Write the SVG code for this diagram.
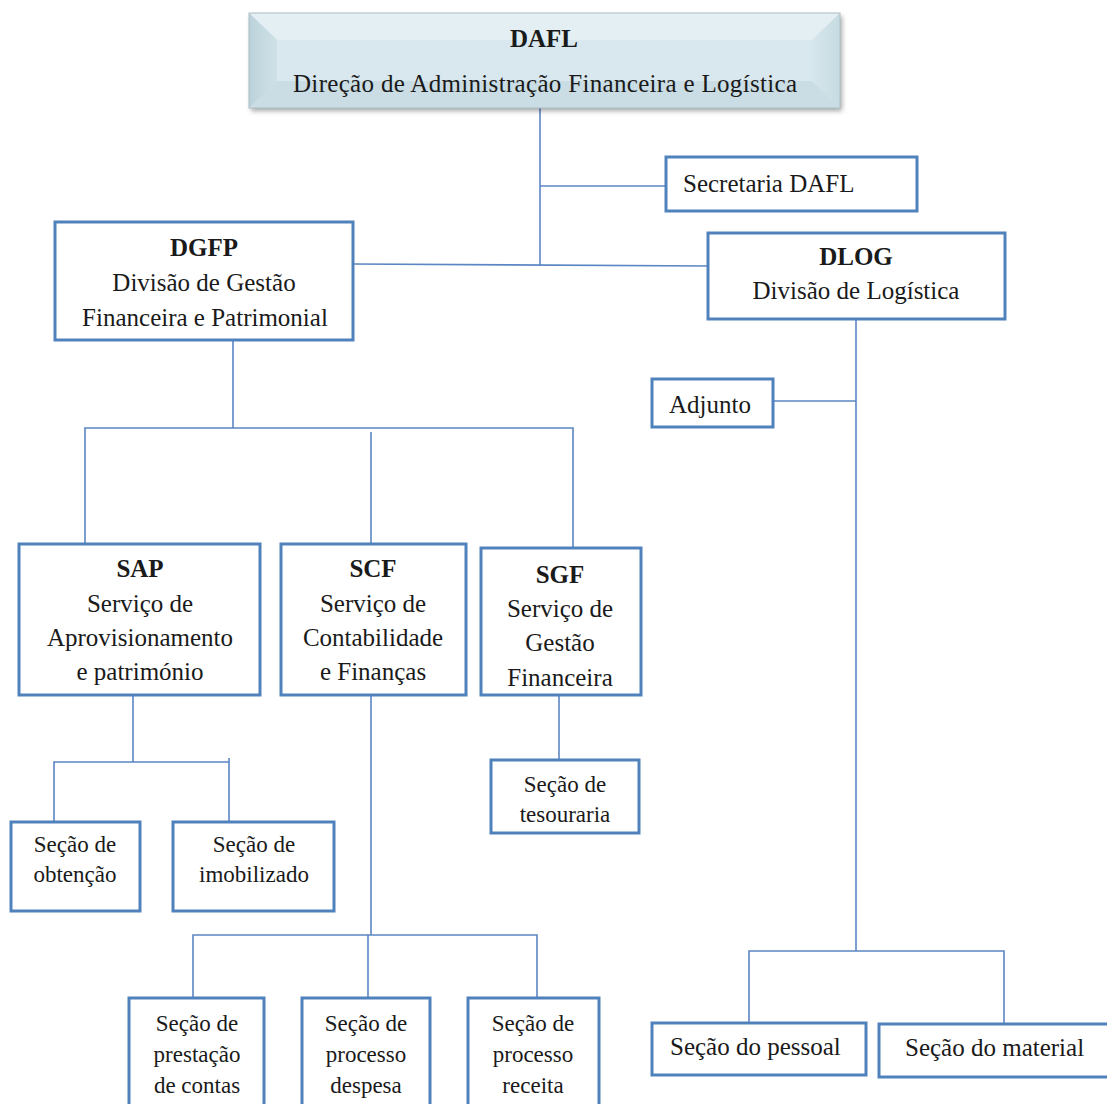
<svg xmlns="http://www.w3.org/2000/svg" width="1107" height="1104" viewBox="0 0 1107 1104">
  <style>
    .box { fill: #ffffff; stroke: #4f81bd; stroke-width: 3; }
    .t { font-family: "Liberation Serif", "Times New Roman", serif; font-size: 25px; fill: #1a1a1a; }
    .s { font-family: "Liberation Serif", "Times New Roman", serif; font-size: 23px; fill: #1a1a1a; }
    .b { font-weight: bold; }
    .c { text-anchor: middle; }
    .ln { stroke: #5b86c4; stroke-width: 1.6; fill: none; }
  </style>
  <defs>
    <filter id="shadow" x="-5%" y="-20%" width="110%" height="150%">
      <feGaussianBlur in="SourceAlpha" stdDeviation="2.5"/>
      <feOffset dx="2" dy="3"/>
      <feComponentTransfer><feFuncA type="linear" slope="0.35"/></feComponentTransfer>
      <feMerge><feMergeNode/><feMergeNode in="SourceGraphic"/></feMerge>
    </filter>
    <linearGradient id="bevL" x1="0" y1="0" x2="1" y2="0">
      <stop offset="0" stop-color="#bcd2da"/>
      <stop offset="1" stop-color="#cfe1e7"/>
    </linearGradient>
    <linearGradient id="bevR" x1="0" y1="0" x2="1" y2="0">
      <stop offset="0" stop-color="#d6e7ec"/>
      <stop offset="1" stop-color="#c6dbe2"/>
    </linearGradient>
  </defs>

  <rect width="1107" height="1104" fill="#ffffff"/>

  <!-- connectors -->
  <g id="connectors">
    <polyline class="ln" points="540,108 540,266"/>
    <polyline class="ln" points="540,186 666,186"/>
    <polyline class="ln" points="353,264 708,266"/>
    <polyline class="ln" points="233,340 233,428"/>
    <polyline class="ln" points="85,544 85,428 573,428 573,548"/>
    <polyline class="ln" points="371,432 371,544"/>
    <polyline class="ln" points="133,695 133,762"/>
    <polyline class="ln" points="54,822 54,762 229,762 229,822"/>
    <polyline class="ln" points="229,758 229,762"/>
    <polyline class="ln" points="371,695 371,935"/>
    <polyline class="ln" points="193,998 193,935 537,935 537,998"/>
    <polyline class="ln" points="368,935 368,998"/>
    <polyline class="ln" points="559,695 559,760"/>
    <polyline class="ln" points="856,319 856,951"/>
    <polyline class="ln" points="749,1023 749,951 1004,951 1004,1024"/>
    <polyline class="ln" points="773,401 856,401"/>
  </g>

  <!-- top direction box with bevelled face -->
  <g id="dafl">
    <g filter="url(#shadow)">
      <rect x="249" y="13" width="591" height="95" fill="#d3e4ea"/>
    </g>
    <polygon points="249,13 840,13 812,40 277,40" fill="#e3eff3"/>
    <polygon points="249,13 277,40 277,81 249,108" fill="url(#bevL)"/>
    <polygon points="840,13 812,40 812,81 840,108" fill="url(#bevR)"/>
    <polygon points="249,108 277,81 812,81 840,108" fill="#cadde4"/>
    <rect x="277" y="40" width="535" height="41" fill="#d8e8ee"/>
    <rect x="249" y="13" width="591" height="95" fill="none" stroke="#aebfc6" stroke-width="1"/>
    <text class="t b c" x="544" y="47">DAFL</text>
    <text class="t c" x="545" y="92" textLength="504">Direção de Administração Financeira e Logística</text>
  </g>

  <g id="secretaria">
    <rect class="box" x="666" y="157" width="251" height="54"/>
    <text class="t" x="683" y="192">Secretaria DAFL</text>
  </g>

  <g id="dgfp">
    <rect class="box" x="55" y="222" width="298" height="118"/>
    <text class="t b c" x="204" y="256">DGFP</text>
    <text class="t c" x="204" y="291">Divisão de Gestão</text>
    <text class="t c" x="205" y="326">Financeira e Patrimonial</text>
  </g>

  <g id="dlog">
    <rect class="box" x="708" y="233" width="297" height="86"/>
    <text class="t b c" x="856" y="265">DLOG</text>
    <text class="t c" x="856" y="299">Divisão de Logística</text>
  </g>

  <g id="adjunto">
    <rect class="box" x="652" y="379" width="121" height="48"/>
    <text class="t" x="669" y="413">Adjunto</text>
  </g>

  <g id="sap">
    <rect class="box" x="19" y="544" width="241" height="151"/>
    <text class="t b c" x="140" y="577">SAP</text>
    <text class="t c" x="140" y="612">Serviço de</text>
    <text class="t c" x="140" y="646">Aprovisionamento</text>
    <text class="t c" x="140" y="680">e património</text>
  </g>

  <g id="scf">
    <rect class="box" x="281" y="544" width="185" height="151"/>
    <text class="t b c" x="373" y="577">SCF</text>
    <text class="t c" x="373" y="612">Serviço de</text>
    <text class="t c" x="373" y="646">Contabilidade</text>
    <text class="t c" x="373" y="680">e Finanças</text>
  </g>

  <g id="sgf">
    <rect class="box" x="481" y="548" width="160" height="147"/>
    <text class="t b c" x="560" y="583">SGF</text>
    <text class="t c" x="560" y="617">Serviço de</text>
    <text class="t c" x="560" y="651">Gestão</text>
    <text class="t c" x="560" y="686">Financeira</text>
  </g>

  <g id="sec-obtencao">
    <rect class="box" x="11" y="822" width="129" height="89"/>
    <text class="s c" x="75" y="852">Seção de</text>
    <text class="s c" x="75" y="882">obtenção</text>
  </g>

  <g id="sec-imobilizado">
    <rect class="box" x="173" y="822" width="161" height="89"/>
    <text class="s c" x="254" y="852">Seção de</text>
    <text class="s c" x="254" y="882">imobilizado</text>
  </g>

  <g id="sec-tesouraria">
    <rect class="box" x="491" y="760" width="148" height="73"/>
    <text class="s c" x="565" y="792">Seção de</text>
    <text class="s c" x="565" y="822">tesouraria</text>
  </g>

  <g id="sec-prestacao">
    <rect class="box" x="129" y="998" width="135" height="115"/>
    <text class="s c" x="197" y="1031">Seção de</text>
    <text class="s c" x="197" y="1062">prestação</text>
    <text class="s c" x="197" y="1093">de contas</text>
  </g>

  <g id="sec-despesa">
    <rect class="box" x="302" y="998" width="128" height="115"/>
    <text class="s c" x="366" y="1031">Seção de</text>
    <text class="s c" x="366" y="1062">processo</text>
    <text class="s c" x="366" y="1093">despesa</text>
  </g>

  <g id="sec-receita">
    <rect class="box" x="468" y="998" width="131" height="115"/>
    <text class="s c" x="533" y="1031">Seção de</text>
    <text class="s c" x="533" y="1062">processo</text>
    <text class="s c" x="533" y="1093">receita</text>
  </g>

  <g id="sec-pessoal">
    <rect class="box" x="652" y="1023" width="214" height="52"/>
    <text class="t" x="670" y="1055">Seção do pessoal</text>
  </g>

  <g id="sec-material">
    <rect class="box" x="879" y="1024" width="240" height="53"/>
    <text class="t" x="905" y="1056">Seção do material</text>
  </g>
</svg>
